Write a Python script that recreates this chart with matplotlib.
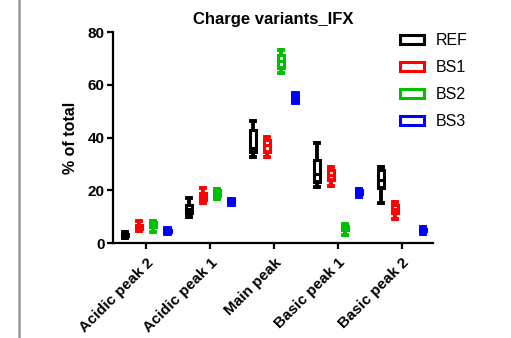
import numpy as np
import matplotlib.pyplot as plt
from matplotlib.lines import Line2D
from matplotlib.patches import Patch

plt.rcParams['font.family'] = ['Liberation Sans', 'DejaVu Sans']

# Charge variant groups and box statistics (min, q1, median, q3, max) per sample
groups = ['Acidic peak 2', 'Acidic peak 1', 'Main peak', 'Basic peak 1', 'Basic peak 2']
samples = ['REF', 'BS1', 'BS2', 'BS3']
colors = ['black', '#ff0000', '#00c000', '#0000ff']

ref_min = [1.8, 10.0, 32.8, 21.1, 15.3]
ref_q1 = [2.5, 11.3, 34.7, 23.3, 20.8]
ref_med = [3.0, 13.0, 36.0, 26.0, 24.0]
ref_q3 = [3.5, 14.4, 42.9, 31.5, 27.7]
ref_max = [4.3, 17.0, 46.3, 37.8, 29.0]

bs1_min = [4.5, 15.3, 32.5, 21.8, 9.1]
bs1_q1 = [5.5, 16.5, 34.7, 23.9, 11.3]
bs1_med = [6.2, 17.8, 37.0, 25.8, 13.0]
bs1_q3 = [7.0, 19.0, 39.0, 27.7, 14.4]
bs1_max = [8.3, 20.8, 40.3, 29.0, 15.7]

bs2_min = [4.3, 16.6, 64.6, 3.0, np.nan]
bs2_q1 = [6.0, 18.0, 66.4, 5.0, np.nan]
bs2_med = [7.0, 19.0, 69.0, 5.8, np.nan]
bs2_q3 = [8.0, 20.0, 71.4, 6.5, np.nan]
bs2_max = [8.3, 20.4, 73.3, 7.2, np.nan]

bs3_min = [3.4, 14.4, 53.0, 17.6, 3.4]
bs3_q1 = [4.0, 15.5, 54.0, 18.5, 4.5]
bs3_med = [4.5, 15.8, 55.0, 19.2, 5.0]
bs3_q3 = [5.0, 16.2, 56.0, 20.0, 5.5]
bs3_max = [5.6, 16.6, 57.0, 20.4, 6.0]

stats_all = [
    (ref_min, ref_q1, ref_med, ref_q3, ref_max),
    (bs1_min, bs1_q1, bs1_med, bs1_q3, bs1_max),
    (bs2_min, bs2_q1, bs2_med, bs2_q3, bs2_max),
    (bs3_min, bs3_q1, bs3_med, bs3_q3, bs3_max),
]

fig = plt.figure(figsize=(5.11, 3.38), dpi=100)
ax = fig.add_axes([0.221, 0.281, 0.626, 0.624])

offsets = [-0.33, -0.11, 0.11, 0.33]
x = np.arange(len(groups))
lw = 2.2

for s, (mn, q1, md, q3, mx) in enumerate(stats_all):
    c = colors[s]
    bstats = []
    pos = []
    for i in range(len(groups)):
        if np.isnan(md[i]):
            continue
        bstats.append(dict(whislo=mn[i], q1=q1[i], med=md[i], q3=q3[i], whishi=mx[i]))
        pos.append(x[i] + offsets[s])
    ax.bxp(bstats, positions=pos, widths=0.1, showfliers=False,
           patch_artist=True, capwidths=0.07,
           boxprops=dict(facecolor='white', edgecolor=c, linewidth=lw),
           whiskerprops=dict(color=c, linewidth=lw + 0.6),
           capprops=dict(color=c, linewidth=lw + 0.6),
           medianprops=dict(color=c, linewidth=lw))

ax.set_xlim(-0.52, 4.48)
ax.set_ylim(0, 80)
ax.set_yticks([0, 20, 40, 60, 80])
ax.set_xticks(x)
ax.set_xticklabels(groups, rotation=45, ha='right', rotation_mode='anchor',
                   fontsize=11, fontweight='bold')
for lab in ax.get_yticklabels():
    lab.set_fontweight('bold')
    lab.set_fontsize(11)
ax.set_ylabel('% of total', fontsize=11.5, fontweight='bold', labelpad=7)
ax.set_title('Charge variants_IFX', fontsize=12, fontweight='bold', pad=6)

ax.spines['top'].set_visible(False)
ax.spines['right'].set_visible(False)
ax.spines['left'].set_linewidth(1.6)
ax.spines['bottom'].set_linewidth(1.6)
ax.tick_params(width=1.6, length=4)
ax.tick_params(axis='x', pad=5)
ax.tick_params(axis='y', pad=2)

handles = [Patch(facecolor='white', edgecolor=c, linewidth=2.2) for c in colors]
fig.legend(handles, samples, loc='upper left', bbox_to_anchor=(0.755, 0.945),
           frameon=False, fontsize=11.5, handlelength=1.5, handleheight=0.5,
           labelspacing=0.75, handletextpad=0.7)

fig.add_artist(Line2D([18.5 / 511, 18.5 / 511], [0, 1], color='#999999', linewidth=1.8))

fig.savefig('out.png', dpi=100)
